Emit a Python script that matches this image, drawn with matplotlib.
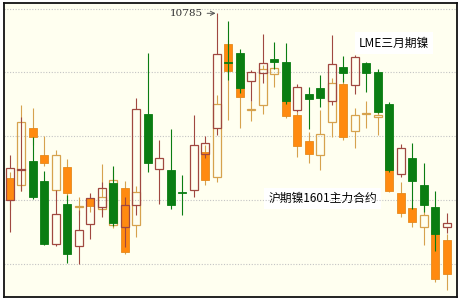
import numpy as np
import matplotlib.pyplot as plt
from matplotlib.patches import Rectangle

plt.rcParams['font.family'] = ['Noto Sans CJK SC', 'DejaVu Sans']

# LME 三月期镍 daily candles
lme_open = [10202, 10294, 10323, 10259, 10062, 10189, 10056, 10125, 10179, 10253, 10116, 10184, 10469,
            10297, 10296, 10227, 10233, 10344, 10427, 10634, 10662, 10573, 10599, 10641, 10632, 10483,
            10531, 10552, 10509, 10617, 10562, 10629, 10601, 10502, 10283, 10333, 10247, 10179, 10115]
lme_high = [10341, 10460, 10397, 10292, 10231, 10216, 10169, 10223, 10256, 10306, 10210, 10519, 10662,
            10388, 10424, 10278, 10466, 10400, 10785, 10762, 10674, 10606, 10721, 10695, 10692, 10565,
            10554, 10591, 10717, 10650, 10656, 10634, 10611, 10507, 10377, 10379, 10315, 10230, 10160]
lme_low = [10101, 10229, 10203, 10059, 10056, 10003, 10000, 10078, 10148, 10119, 10054, 10153, 10288,
           10188, 10174, 10155, 10210, 10331, 10403, 10575, 10537, 10512, 10566, 10612, 10500, 10475,
           10424, 10491, 10497, 10570, 10531, 10538, 10472, 10288, 10273, 10172, 10162, 10042, 10098]
lme_close = [10302, 10298, 10210, 10062, 10156, 10031, 10106, 10207, 10237, 10128, 10184, 10484, 10317,
             10333, 10184, 10222, 10372, 10379, 10658, 10628, 10552, 10600, 10630, 10634, 10512, 10554,
             10516, 10521, 10627, 10598, 10648, 10598, 10477, 10294, 10362, 10260, 10184, 10094, 10129]

# 沪期镍1601 (no trading during the holiday, None)
shfe_open = [10269, 10247, 10426, 10343, 10233, 10304, 10180, 10207, 10172, 10122, 10237, 10122,
             None, None, None, None, None,
             10351, 10273, 10690, 10606, 10481, 10497, 10596, 10544, 10466, 10385, 10341, 10444,
             10565, 10417, 10470, 10459, 10356, 10223, 10175, 10115, 10106, 10075]
shfe_high = [10288, 10497, 10488, 10400, 10356, 10328, 10209, 10216, 10313, 10294, 10260, 10244,
             None, None, None, None, None,
             10372, 10528, 10700, 10638, 10512, 10622, 10631, 10559, 10475, 10413, 10481, 10581,
             10581, 10488, 10512, 10481, 10387, 10256, 10184, 10184, 10138, 10094]
shfe_low = [10169, 10229, 10372, 10306, 10216, 10200, 10153, 10163, 10156, 10113, 10031, 10085,
            None, None, None, None, None,
            10247, 10257, 10450, 10427, 10447, 10471, 10554, 10456, 10335, 10315, 10294, 10398,
            10388, 10362, 10427, 10403, 10225, 10148, 10117, 10061, 9944, 9920]
shfe_close = [10202, 10445, 10398, 10317, 10341, 10221, 10183, 10182, 10209, 10263, 10038, 10226,
              None, None, None, None, None,
              10263, 10502, 10604, 10523, 10485, 10612, 10614, 10462, 10369, 10344, 10408, 10567,
              10398, 10466, 10473, 10466, 10229, 10160, 10131, 10153, 9952, 9969]

grid_levels = [10000, 10200, 10400, 10600, 10800]
peak_value = 10785

BG = '#fffff0'
LME_UP = '#a04840'
LME_DOWN = '#0a7d12'
SH_UP = '#d6a24e'
SH_DOWN = '#ff8a10'
SH_DOWN_EDGE = '#e58a1e'


def draw_candles(ax, o, h, l, c, up_col, down_face, down_edge, wick_down, z, width=0.72):
    o, h, l, c = (np.array(a, dtype=float) for a in (o, h, l, c))
    x = np.arange(len(o))
    for i in x:
        if np.isnan(o[i]):
            continue
        lo, hi = min(o[i], c[i]), max(o[i], c[i])
        if c[i] >= o[i]:
            # hollow (up) candle: wick only outside the body
            ax.vlines(i, hi, h[i], color=up_col, lw=0.8, zorder=z)
            ax.vlines(i, l[i], lo, color=up_col, lw=0.8, zorder=z)
            ax.add_patch(Rectangle((i - width / 2, lo), width, hi - lo, facecolor='none',
                                   edgecolor=up_col, lw=0.9, zorder=z))
        else:
            ax.vlines(i, l[i], h[i], color=wick_down, lw=0.8, zorder=z)
            ax.add_patch(Rectangle((i - width / 2, lo), width, hi - lo, facecolor=down_face,
                                   edgecolor=down_edge, lw=0.6, zorder=z))


fig = plt.figure(figsize=(4.61, 3.03), dpi=100)
ax = fig.add_axes([0.0076, 0.0198, 0.983, 0.969])
ax.set_facecolor(BG)

draw_candles(ax, shfe_open, shfe_high, shfe_low, shfe_close,
             SH_UP, SH_DOWN, SH_DOWN_EDGE, SH_UP, z=2)
draw_candles(ax, lme_open, lme_high, lme_low, lme_close,
             LME_UP, LME_DOWN, LME_DOWN, LME_DOWN, z=3)

ax.set_xlim(-0.55, 38.87)
ax.set_ylim(9897, 10816)
ax.set_yticks(grid_levels)
ax.set_xticks([])
ax.tick_params(length=0, labelleft=False)
ax.grid(axis='y', color='#c4c4c4', linestyle=(0, (1, 1.5)), lw=0.8, zorder=0)
for s in ax.spines.values():
    s.set_color('#111111')
    s.set_linewidth(1.3)

peak_i = int(np.argmax(lme_high))
ax.annotate(str(peak_value), xy=(peak_i - 0.1, peak_value), xytext=(peak_i - 1.2, peak_value),
            ha='right', va='center', fontsize=7.5, family='DejaVu Serif', color='#333333',
            arrowprops=dict(arrowstyle='->', color='#555555', lw=0.7, shrinkA=1, shrinkB=0))

ax.text(33.4, 10692, 'LME三月期镍', ha='center', va='center', fontsize=8.5, color='black',
        bbox=dict(facecolor='white', edgecolor='none', pad=3), zorder=1)
ax.text(27.2, 10206, '沪期镍1601主力合约', ha='center', va='center', fontsize=8.5, color='black',
        bbox=dict(facecolor='white', edgecolor='none', pad=3), zorder=1)

fig.savefig('out.png', dpi=100, facecolor='white')
